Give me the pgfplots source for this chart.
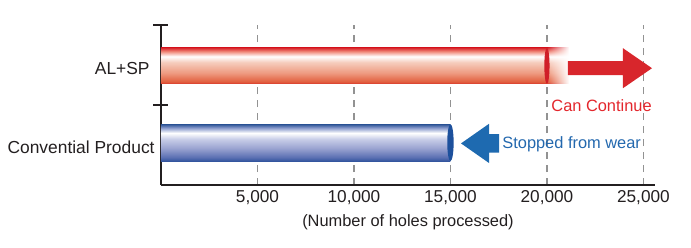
\documentclass[border=0pt]{standalone}
\usepackage{pgfplots}
\pgfplotsset{compat=1.18}
\usepackage{fontspec}
\setmainfont{Liberation Sans}
\usetikzlibrary{fadings}

\definecolor{arrowred}{HTML}{D8262C}
\definecolor{textred}{HTML}{E3262C}
\definecolor{arrowblue}{HTML}{1E6AB0}
\definecolor{textblue}{HTML}{2368AE}
\definecolor{capred}{HTML}{D01F28}
\definecolor{capblue}{HTML}{1D509C}
\definecolor{gridgray}{HTML}{929292}
\definecolor{axisblack}{HTML}{231F20}
\definecolor{rbA}{HTML}{D83A2C}
\definecolor{rbB}{HTML}{E2603F}
\definecolor{rbC}{HTML}{EE9A80}
\definecolor{rbD}{HTML}{F6CDBE}
\definecolor{rbE}{HTML}{F08878}
\definecolor{rbF}{HTML}{D9252B}
\definecolor{bbA}{HTML}{34569F}
\definecolor{bbB}{HTML}{5B70B3}
\definecolor{bbC}{HTML}{98A2D0}
\definecolor{bbD}{HTML}{C9CEE8}
\definecolor{bbE}{HTML}{8A9BCD}
\definecolor{bbF}{HTML}{2D5496}

\pgfdeclareverticalshading{redcyl}{100bp}{color(0bp)=(rbA); color(25bp)=(rbA); color(28bp)=(rbB); color(40bp)=(rbC); color(55bp)=(rbD); color(63bp)=(white); color(70bp)=(rbE); color(75bp)=(rbF); color(100bp)=(rbF)}
\pgfdeclareverticalshading{bluecyl}{100bp}{color(0bp)=(bbA); color(25bp)=(bbA); color(30bp)=(bbB); color(42bp)=(bbC); color(55bp)=(bbD); color(63bp)=(white); color(70bp)=(bbE); color(75bp)=(bbF); color(100bp)=(bbF)}

\pgfdeclareplotmark{redcap}{\pgfpathellipse{\pgfpointorigin}{\pgfqpoint{1.3pt}{0pt}}{\pgfqpoint{0pt}{9pt}}\pgfusepathqfill}
\pgfdeclareplotmark{bluecap}{\pgfpathellipse{\pgfpointorigin}{\pgfqpoint{1.6pt}{0pt}}{\pgfqpoint{0pt}{9.2pt}}\pgfusepathqfill}

\begin{document}
\begin{tikzpicture}
\path[use as bounding box] (-80.5pt,-31pt) rectangle (265pt,92.5pt);
\begin{axis}[
  at={(0,0)}, anchor=south west,
  scale only axis, width=247pt, height=80pt,
  xmin=0, xmax=25600, ymin=0.5, ymax=2.5,
  axis x line*=bottom, axis y line*=left,
  axis line style={line width=1pt, axisblack},
  clip=false,
  scaled x ticks=false,
  xtick={5000,10000,15000,20000,25000},
  xticklabels={{5,000},{10,000},{15,000},{20,000},{25,000}},
  xtick style={draw=none},
  xticklabel style={anchor=base, yshift=-8.5pt, inner sep=0pt, font=\fontsize{8.6pt}{10pt}\selectfont, text=axisblack},
  ytick={1.5,2.5}, yticklabels={},
  ytick align=center, major tick length=7.5pt,
  ytick style={line width=1pt, axisblack},
  xmajorgrids,
  major grid style={gridgray, line width=0.85pt, dash pattern=on 3.5pt off 3pt},
  xlabel={(Number of holes processed)},
  xlabel style={at={(axis description cs:0.5,0)}, anchor=base, yshift=-20.5pt, inner sep=0pt, font=\fontsize{8.2pt}{10pt}\selectfont, text=axisblack},
]
% bars
\addplot[xbar, bar width=0.45, draw=none, shading=redcyl] coordinates {(20000,1.99)};
\addplot[xbar, bar width=0.46, draw=none, shading=bluecyl] coordinates {(15000,1.03)};
% fade continuation of red bar
\addplot[draw=none, shading=redcyl, path fading=east] coordinates {(20000,1.765) (21150,1.765) (21150,2.215) (20000,2.215)} -- cycle;
% end caps
\addplot[only marks, mark=redcap, color=capred] coordinates {(20000,1.99)};
\addplot[only marks, mark=bluecap, color=capblue] coordinates {(15000,1.03)};
% arrows
\addplot[draw=none, fill=arrowred] coordinates {(21090,1.8725) (23940,1.8725) (23940,1.71) (25445,1.96) (23940,2.21) (23940,2.0475) (21090,2.0475)} -- cycle;
\addplot[draw=none, fill=arrowblue] coordinates {(17516,0.905) (16998,0.905) (16998,0.775) (15547,1.02) (16998,1.265) (16998,1.135) (17516,1.135)} -- cycle;
% labels
\node[anchor=base east, inner sep=0pt, font=\fontsize{8.7pt}{10pt}\selectfont, text=axisblack] at (axis cs:-570,1.8875) {AL+SP};
\node[anchor=base east, inner sep=0pt, font=\fontsize{8.7pt}{10pt}\selectfont, text=axisblack] at (axis cs:-311,0.9) {Convential Product};
\node[anchor=base west, inner sep=0pt, font=\fontsize{8.2pt}{10pt}\selectfont, text=textred] at (axis cs:20211,1.425) {Can Continue};
\node[anchor=base west, inner sep=0pt, font=\fontsize{8.2pt}{10pt}\selectfont, text=textblue] at (axis cs:17671,0.959) {Stopped from wear};
\end{axis}
\end{tikzpicture}
\end{document}
